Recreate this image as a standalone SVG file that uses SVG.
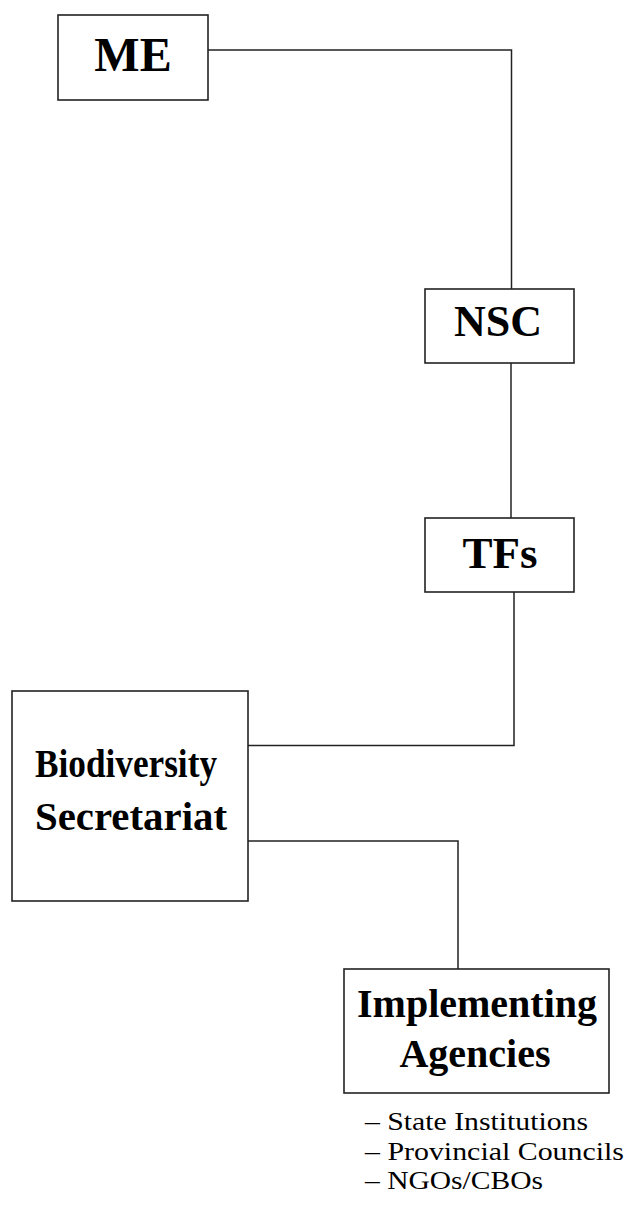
<svg xmlns="http://www.w3.org/2000/svg" width="626" height="1205" viewBox="0 0 626 1205">
<style>
.box{fill:#fff;stroke:#222;stroke-width:1.6}
.t{font-family:"Liberation Serif","Times New Roman",serif;font-weight:bold;fill:#000;text-anchor:middle}
.l{font-family:"Liberation Serif","Times New Roman",serif;fill:#000;font-size:26px}
.c{fill:none;stroke:#222;stroke-width:1.5}
</style>
<rect width="626" height="1205" fill="#fff"/>
<g id="connectors">
<path class="c" d="M208,50 H511.5 V289"/>
<path class="c" d="M511,363 V518"/>
<path class="c" d="M514,592 V745.5 H248"/>
<path class="c" d="M248,841 H458 V969"/>
</g>
<g id="node-me">
<rect class="box" x="58" y="15" width="150" height="85"/>
<text class="t" x="133" y="71" font-size="48">ME</text>
</g>
<g id="node-nsc">
<rect class="box" x="425" y="289" width="149" height="74"/>
<text class="t" x="498" y="336" font-size="44">NSC</text>
</g>
<g id="node-tfs">
<rect class="box" x="425" y="518" width="149" height="74"/>
<text class="t" x="500" y="568" font-size="45">TFs</text>
</g>
<g id="node-bs">
<rect class="box" x="12" y="691" width="236" height="210"/>
<text class="t" x="126" y="777" font-size="41" textLength="182" lengthAdjust="spacingAndGlyphs">Biodiversity</text>
<text class="t" x="131" y="830" font-size="41" textLength="192" lengthAdjust="spacingAndGlyphs">Secretariat</text>
</g>
<g id="node-ia">
<rect class="box" x="344" y="969" width="265" height="124"/>
<text class="t" x="477" y="1016.5" font-size="40">Implementing</text>
<text class="t" x="475" y="1066.5" font-size="40">Agencies</text>
</g>
<g id="ia-list">
<text class="l" x="365" y="1130" textLength="223" lengthAdjust="spacingAndGlyphs">– State Institutions</text>
<text class="l" x="365" y="1159.5" textLength="259" lengthAdjust="spacingAndGlyphs">– Provincial Councils</text>
<text class="l" x="365" y="1189" textLength="178" lengthAdjust="spacingAndGlyphs">– NGOs/CBOs</text>
</g>
</svg>
